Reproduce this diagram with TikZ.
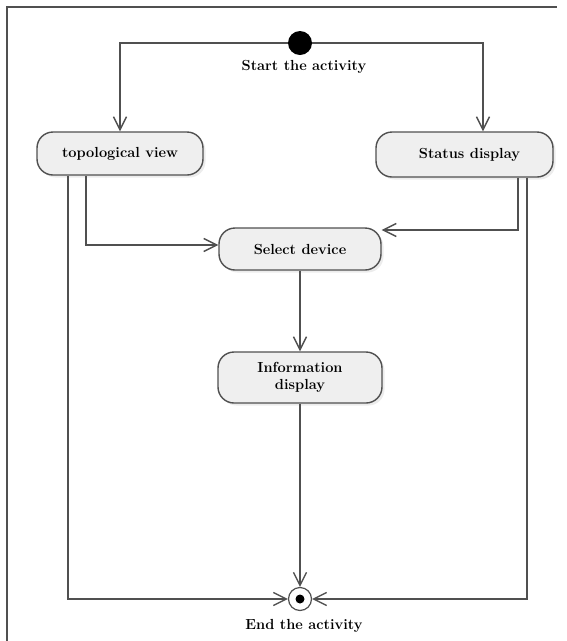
\documentclass[tikz,border=0pt]{standalone}
\usepackage{fix-cm}
\usetikzlibrary{arrows.meta,shadows}
\definecolor{linegray}{HTML}{505050}
\definecolor{boxfill}{HTML}{EFEFEF}
\begin{document}
\begin{tikzpicture}[
      x=1pt,y=-1pt,
      myaction/.style={
         rectangle,
         rounded corners=16pt,
         draw=linegray,
         line width=1.4pt,
         fill=boxfill,
         drop shadow={shadow xshift=2.5pt,shadow yshift=-2.5pt,fill=black!15},
         inner sep=0pt,
         align=center,
         font=\fontsize{14.6}{17.5}\selectfont\bfseries},
      mylabel/.style={
         rectangle,
         inner sep=0pt,
         font=\fontsize{14.6}{17.5}\selectfont\bfseries},
      myarrow/.style={-{Straight Barb[length=13pt,width=13pt]},draw=linegray,line width=1.4pt},
      ]
      \useasboundingbox (0,0) rectangle (566,641);
      \draw[linegray,line width=1.2pt] (7,641) -- (7,7) -- (557,7);
      \node[circle,fill=black,inner sep=0pt,minimum size=24pt] (start) at (300,43) {};
      \node[mylabel] (startlabel) at (304,67) {Start the activity};
      \node[myaction,minimum width=166pt,minimum height=43pt] (topo) at (120,153.5) {topological view};
      \node[myaction,minimum width=177pt,minimum height=45pt] (status) at (464.5,154.5) {\hspace*{10pt}Status display};
      \node[myaction,minimum width=162pt,minimum height=42pt] (select) at (300,249) {Select device};
      \node[myaction,minimum width=164pt,minimum height=51pt] (info) at (300,377.5) {Information\\display};
      \node[circle,draw=linegray,fill=white,line width=1.2pt,inner sep=0pt,minimum size=23pt] (end) at (300,599) {};
      \fill (end) circle (4.5);
      \node[mylabel] (endlabel) at (304,626) {End the activity};
      \draw[myarrow] (start) -| (topo.north);
      \draw[myarrow] (start) -| ([xshift=18.5pt]status.north);
      \draw[myarrow] ([xshift=-34pt]topo.south) |- ([yshift=4pt]select.west);
      \draw[myarrow] ([xshift=53.5pt]status.south) |- ([yshift=19pt]select.east);
      \draw[myarrow] (select) -- (info);
      \draw[myarrow] (info) -- (end);
      \draw[myarrow] ([xshift=-52pt]topo.south) |- (end);
      \draw[myarrow] ([xshift=62.5pt]status.south) |- (end);
\end{tikzpicture}
\end{document}
